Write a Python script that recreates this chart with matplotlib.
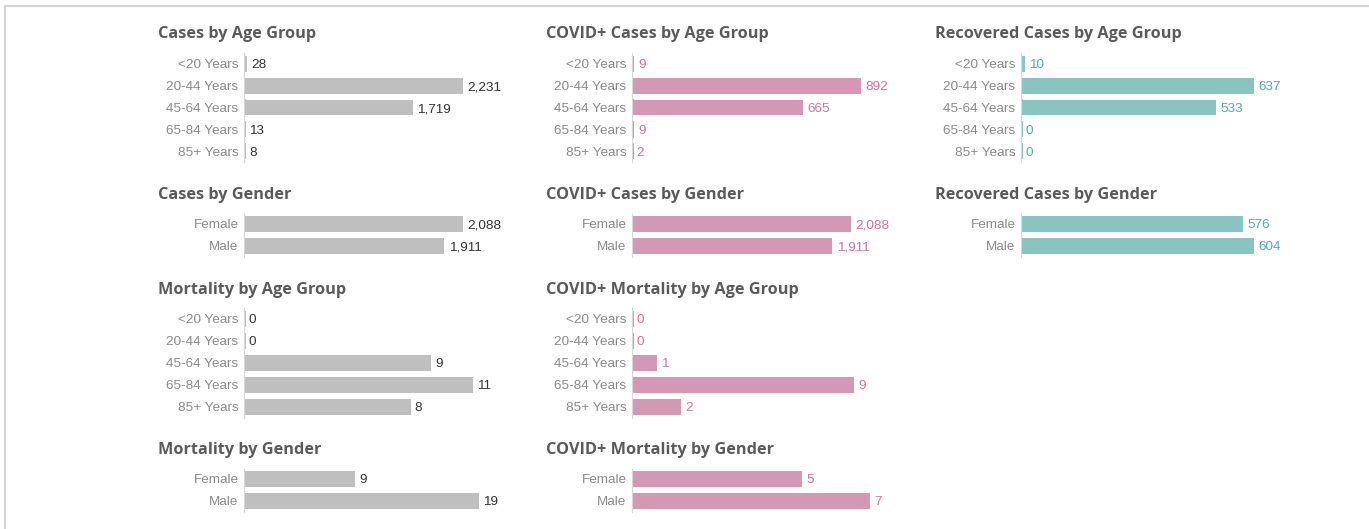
import numpy as np
import matplotlib.pyplot as plt
from matplotlib.lines import Line2D
from matplotlib.transforms import offset_copy

# Данные
age_groups = ['<20 Years', '20-44 Years', '45-64 Years', '65-84 Years', '85+ Years']
genders = ['Female', 'Male']

cases_age = [28, 2231, 1719, 13, 8]
cases_gender = [2088, 1911]
mortality_age = [0, 0, 9, 11, 8]
mortality_gender = [9, 19]

covid_age = [9, 892, 665, 9, 2]
covid_gender = [2088, 1911]
covid_mortality_age = [0, 0, 1, 9, 2]
covid_mortality_gender = [5, 7]

recovered_age = [10, 637, 533, 0, 0]
recovered_gender = [576, 604]

W, H = 1369, 529
fig = plt.figure(figsize=(W / 100, H / 100), dpi=100)

# рамка
fig.add_artist(Line2D([5 / W, 1], [1 - 6 / H, 1 - 6 / H], color='#d4d4d4', lw=1.5))
fig.add_artist(Line2D([5 / W, 5 / W], [0, 1 - 6 / H], color='#d4d4d4', lw=1.5))

gray, pink, teal = '#bfbfbf', '#d398b4', '#8ac4c0'
gray_txt, pink_txt, teal_txt = '#333333', '#d0739c', '#52aca8'

# (title, labels, values, bar color, text color, axis x, title y, first row y, max bar px)
panels = [
    ('Cases by Age Group', age_groups, cases_age, gray, gray_txt, 244, 33, 63, 219),
    ('Cases by Gender', genders, cases_gender, gray, gray_txt, 244, 193, 223, 219),
    ('Mortality by Age Group', age_groups, mortality_age, gray, gray_txt, 244, 288, 318, 229),
    ('Mortality by Gender', genders, mortality_gender, gray, gray_txt, 244, 448, 478, 235),
    ('COVID+ Cases by Age Group', age_groups, covid_age, pink, pink_txt, 632, 33, 63, 229),
    ('COVID+ Cases by Gender', genders, covid_gender, pink, pink_txt, 632, 193, 223, 219),
    ('COVID+ Mortality by Age Group', age_groups, covid_mortality_age, pink, pink_txt, 632, 288, 318, 222),
    ('COVID+ Mortality by Gender', genders, covid_mortality_gender, pink, pink_txt, 632, 448, 478, 238),
    ('Recovered Cases by Age Group', age_groups, recovered_age, teal, teal_txt, 1021, 33, 63, 233),
    ('Recovered Cases by Gender', genders, recovered_gender, teal, teal_txt, 1021, 193, 223, 233),
]

row_h = 22
ax_w = 300

for title, labels, values, bc, tc, x0, ty, ry, bar_px in panels:
    n = len(labels)
    top = ry - row_h / 2 + 0.5
    ax = fig.add_axes([x0 / W, 1 - (top + n * row_h) / H, ax_w / W, n * row_h / H])
    y = np.arange(n)
    ax.barh(y, values, height=16 / 22, color=bc)
    # минимальная ширина столбца (2 px)
    tr = offset_copy(ax.transData, fig=fig, x=1.0, y=0, units='dots')
    ax.vlines(np.zeros(n), y - 8 / 22, y + 8 / 22, color=bc, lw=1.5, transform=tr)
    ax.set_xlim(0, max(values) * ax_w / bar_px)
    ax.set_ylim(n - 0.5, -0.5)
    ax.set_yticks(y)
    ax.set_yticklabels(labels, fontsize=9.7, color='#8a8a8a', family='Liberation Sans')
    ax.tick_params(axis='y', length=0, pad=4)
    ax.set_xticks([])
    for s in ['top', 'right', 'bottom']:
        ax.spines[s].set_visible(False)
    ax.spines['left'].set_color('#d8d8d8')
    ax.spines['left'].set_linestyle((0, (1, 1)))
    ax.spines['left'].set_linewidth(0.8)
    ax.patch.set_alpha(0)
    for i, v in enumerate(values):
        ax.annotate(f'{v:,}', (v, i), xytext=(3, 0), textcoords='offset points',
                    va='center_baseline', ha='left', fontsize=9.7, color=tc,
                    family='Liberation Sans')
    fig.text((x0 - 86) / W, 1 - (ty + 1.5) / H, title, fontsize=11.7, fontweight='bold',
             color='#5a5a5a', family='Open Sans', va='center', ha='left')

fig.savefig('out.png', dpi=100)
